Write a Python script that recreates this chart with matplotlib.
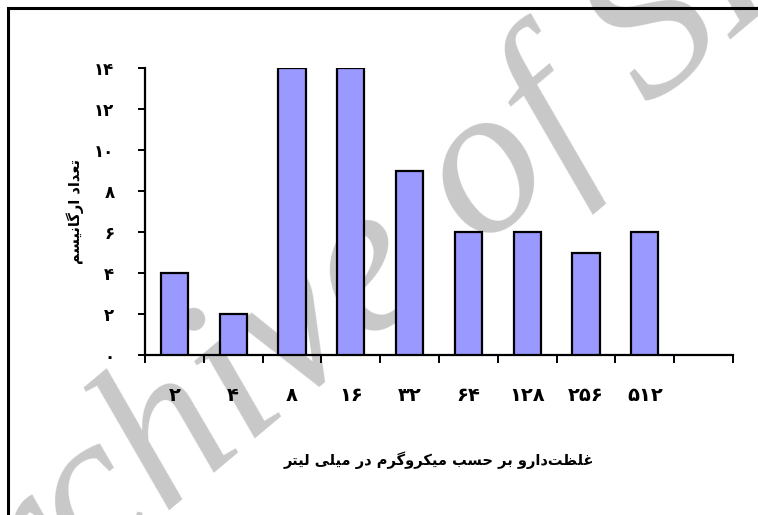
import matplotlib
matplotlib.use("Agg")
import matplotlib.pyplot as plt
from matplotlib.patches import Rectangle

# ---------------- data ----------------
categories = ['۲', '۴', '۸', '۱۶', '۳۲', '۶۴', '۱۲۸', '۲۵۶', '۵۱۲', '']
counts = [4, 2, 14, 14, 9, 6, 6, 5, 6]
y_ticks = [0, 2, 4, 6, 8, 10, 12, 14]
y_tick_labels = ['۰', '۲', '۴', '۶', '۸', '۱۰', '۱۲', '۱۴']
y_title = 'تعداد ارگانیسم'
x_title = 'غلظت\u200cدارو بر حسب میکروگرم در میلی لیتر'
watermark = 'Archive of SID'

# ------------- minimal Persian shaping (presentation forms + RTL) -------------
FORMS = {
    'ا': (0xFE8D, 0xFE8E, None, None),
    'ب': (0xFE8F, 0xFE90, 0xFE91, 0xFE92),
    'ت': (0xFE95, 0xFE96, 0xFE97, 0xFE98),
    'ح': (0xFEA1, 0xFEA2, 0xFEA3, 0xFEA4),
    'د': (0xFEA9, 0xFEAA, None, None),
    'ر': (0xFEAD, 0xFEAE, None, None),
    'س': (0xFEB1, 0xFEB2, 0xFEB3, 0xFEB4),
    'ظ': (0xFEC5, 0xFEC6, 0xFEC7, 0xFEC8),
    'ع': (0xFEC9, 0xFECA, 0xFECB, 0xFECC),
    'غ': (0xFECD, 0xFECE, 0xFECF, 0xFED0),
    'ل': (0xFEDD, 0xFEDE, 0xFEDF, 0xFEE0),
    'م': (0xFEE1, 0xFEE2, 0xFEE3, 0xFEE4),
    'ن': (0xFEE5, 0xFEE6, 0xFEE7, 0xFEE8),
    'و': (0xFEED, 0xFEEE, None, None),
    'ک': (0xFB8E, 0xFB8F, 0xFB90, 0xFB91),
    'گ': (0xFB92, 0xFB93, 0xFB94, 0xFB95),
    'ی': (0xFBFC, 0xFBFD, 0xFBFE, 0xFBFF),
}


def shape(text):
    out = []
    n = len(text)
    for i, c in enumerate(text):
        if c == '\u200c':
            continue
        if c not in FORMS:
            out.append(c)
            continue
        prev = text[i - 1] if i > 0 else ''
        nxt = text[i + 1] if i + 1 < n else ''
        jp = prev in FORMS and FORMS[prev][2] is not None
        jn = nxt in FORMS and FORMS[c][2] is not None
        iso, fin, ini, med = FORMS[c]
        if jp and jn:
            cp = med
        elif jp:
            cp = fin
        elif jn:
            cp = ini
        else:
            cp = iso
        out.append(chr(cp))
    return ''.join(reversed(out))


# ---------------- figure ----------------
fig = plt.figure(figsize=(7.58, 5.15), dpi=100)
fig.patch.set_facecolor('white')

# watermark (behind everything)
fig.text(422 / 758, 1 - 308 / 515, watermark, fontsize=155, color='#c8c8c8',
         family='Liberation Serif', style='italic', rotation=40,
         rotation_mode='anchor', ha='center', va='baseline', zorder=-5)

ax = fig.add_axes([145 / 758, 1 - 355 / 515, (733 - 145) / 758, (355 - 68) / 515])
ax.set_facecolor('none')

xpos = [i + 0.5 for i in range(len(counts))]
ax.bar(xpos, counts, width=0.46, color='#9999FF', edgecolor='black',
       linewidth=1.6, zorder=3)

ax.set_xlim(0, len(categories))
ax.set_ylim(0, 14)

for s in ['top', 'right']:
    ax.spines[s].set_visible(False)
for s in ['left', 'bottom']:
    ax.spines[s].set_linewidth(1.6)
    ax.spines[s].set_color('black')

# x: major ticks at category boundaries, labels at centers
ax.set_xticks(range(len(categories) + 1))
ax.set_xticklabels([])
ax.tick_params(axis='x', which='major', direction='out', length=6, width=1.4)
ax.set_xticks([i + 0.5 for i in range(len(categories))], minor=True)
ax.set_xticklabels(categories, minor=True, fontsize=14, fontweight='bold',
                   family='DejaVu Sans')
ax.tick_params(axis='x', which='minor', length=0, pad=22)

ax.set_yticks(y_ticks)
ax.set_yticklabels(y_tick_labels, fontsize=12, fontweight='bold',
                   family='DejaVu Sans')
ax.tick_params(axis='y', direction='out', length=5, width=1.4, pad=17)

ax.set_ylabel(shape(y_title), fontsize=10.5, fontweight='bold',
              family='DejaVu Sans', labelpad=7)
ax.set_xlabel(shape(x_title), fontsize=10.5, fontweight='bold',
              family='DejaVu Sans', labelpad=34)

# outer frame
fig.patches.append(Rectangle((8 / 758, -0.05), 1.0, 1 - 8 / 515 + 0.05,
                             transform=fig.transFigure, fill=False,
                             edgecolor='black', linewidth=2.2, zorder=10))

fig.savefig('out.png', dpi=100)
